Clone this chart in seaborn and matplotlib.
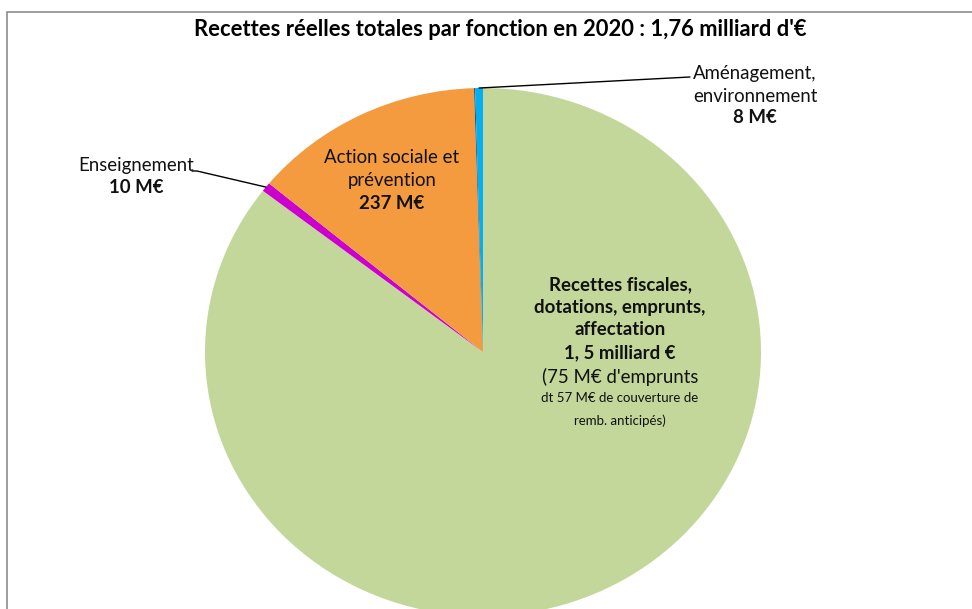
import matplotlib
matplotlib.use("Agg")
import matplotlib.pyplot as plt
import seaborn as sns
import numpy as np
from matplotlib.patches import Rectangle

sns.set_theme(style="white")
plt.rcParams["font.family"] = ["Lato", "DejaVu Sans"]

# Recettes par fonction (M€), dans l'ordre horaire depuis midi
categories = ["Recettes fiscales, dotations, emprunts, affectation",
              "Enseignement",
              "Action sociale et prévention",
              "Autres",
              "Aménagement, environnement"]
values = [1504, 10, 237, 1, 8]
colors = ["#c4d79b", "#cc00cc", "#f39b3e", "#1f3864", "#00b0f0"]

title = "Recettes réelles totales par fonction en 2020 : 1,76 milliard d'€"

W, H = 972, 609
fig = plt.figure(figsize=(W / 100, H / 100), dpi=100)

# Cadre du graphique
fig.patches.append(Rectangle((7 / W, -0.05), 1.2, (H - 12) / H + 0.05,
                             transform=fig.transFigure, fill=False,
                             edgecolor="#8c8c8c", linewidth=1.2, zorder=0))

# Axes placés pour un camembert légèrement elliptique (rx=278 px, ry=264 px)
cx, cy, rx, ry = 483, 352, 278, 264
lim = 1.3
axw, axh = 2 * lim * rx, 2 * lim * ry
ax = fig.add_axes([(cx - axw / 2) / W, (H - cy - axh / 2) / H, axw / W, axh / H])

wedges, _ = ax.pie(values, colors=colors, startangle=90, counterclock=False,
                   radius=1.0, wedgeprops=dict(linewidth=0))
ax.set_aspect("auto")
ax.set_xlim(-lim, lim)
ax.set_ylim(-lim, lim)
ax.axis("off")


def rim_point(w):
    a = np.deg2rad((w.theta1 + w.theta2) / 2)
    return np.cos(a), np.sin(a)


def px(x, y):
    return (x - cx) / rx, (cy - y) / ry


fs = 13.4
# Libellé central (recettes fiscales)
gx = px(620, 0)[0]
for y, txt, wt, size in [(285, "Recettes fiscales,", "bold", fs),
                         (308, "dotations, emprunts,", "bold", fs),
                         (330, "affectation", "bold", fs),
                         (353, "1, 5 milliard €", "bold", fs),
                         (377, "(75 M€ d'emprunts", "normal", fs),
                         (398, "dt 57 M€ de couverture de", "normal", 9.5),
                         (421, "remb. anticipés)", "normal", 9.5)]:
    ax.text(gx, px(0, y)[1], txt, ha="center", va="center",
            fontsize=size, fontweight=wt, color="#111111")

# Action sociale
ox = px(392, 0)[0]
for y, txt, wt in [(158, "Action sociale et", "normal"),
                   (181, "prévention", "normal"),
                   (204, "237 M€", "bold")]:
    ax.text(ox, px(0, y)[1], txt, ha="center", va="center",
            fontsize=fs, fontweight=wt, color="#111111")

# Enseignement avec ligne de rappel
ex = px(136, 0)[0]
ax.text(ex, px(0, 166)[1], "Enseignement", ha="center", va="center",
        fontsize=fs, color="#111111")
ax.text(ex, px(0, 188)[1], "10 M€", ha="center", va="center",
        fontsize=fs, fontweight="bold", color="#111111")
rx_e, ry_e = rim_point(wedges[1])
x0, y0 = px(197, 171)
x1, y1 = px(192, 171)
ax.plot([x1, x0, rx_e], [y1, y0, ry_e], color="black", lw=1)

# Aménagement avec ligne de rappel
ax_x = px(755, 0)[0]
ax.text(ax_x, px(0, 74)[1], "Aménagement,", ha="center", va="center",
        fontsize=fs, color="#111111")
ax.text(ax_x, px(0, 96)[1], "environnement", ha="center", va="center",
        fontsize=fs, color="#111111")
ax.text(ax_x, px(0, 118)[1], "8 M€", ha="center", va="center",
        fontsize=fs, fontweight="bold", color="#111111")
rx_a, ry_a = rim_point(wedges[4])
x0, y0 = px(690, 77)
ax.plot([x0, rx_a], [y0, ry_a], color="black", lw=1)

fig.text(500 / W, 1 - 30 / H, title, ha="center", va="center",
         fontsize=15.8, fontweight="bold", color="black")

fig.savefig("out.png", dpi=100, facecolor="white")
